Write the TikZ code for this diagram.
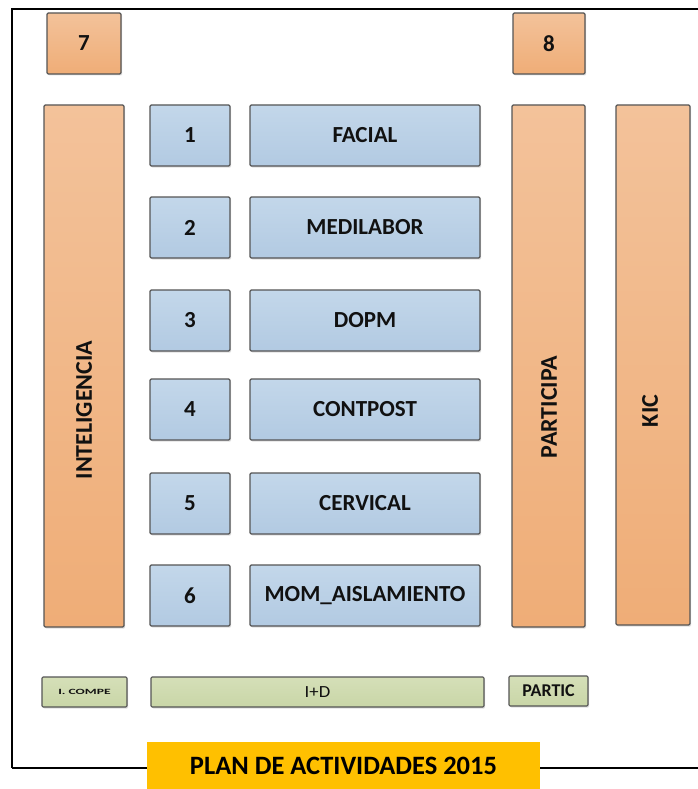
\documentclass[tikz,border=0pt]{standalone}
\usepackage{fontspec}
\setmainfont{Carlito}
\usetikzlibrary{shadows}
\definecolor{otop}{HTML}{F3C29A}
\definecolor{obot}{HTML}{EFAD77}
\definecolor{btop}{HTML}{C3D7EA}
\definecolor{bbot}{HTML}{B2CAE2}
\definecolor{gtop}{HTML}{D5DFB8}
\definecolor{gbot}{HTML}{C9D6A7}
\definecolor{edge}{HTML}{555555}
\definecolor{txt}{HTML}{111111}
\definecolor{gold}{HTML}{FFC000}
\tikzset{
  base/.style={draw=edge, line width=1.3pt, inner sep=0pt, text=txt, rounded corners=1.2pt,
    font=\bfseries\fontsize{23}{26}\selectfont,
    drop shadow={shadow xshift=1.2pt, shadow yshift=-1.5pt, opacity=0.25}},
  obox/.style={base, top color=otop, bottom color=obot},
  bbox/.style={base, top color=btop, bottom color=bbot},
  gbox/.style={base, top color=gtop, bottom color=gbot, line width=1.1pt},
  vlab/.style={rotate=90, text=txt, inner sep=0pt, font=\bfseries\fontsize{24}{27}\selectfont},
}
\begin{document}
\begin{tikzpicture}[x=1pt, y=-1pt]
\useasboundingbox (0,0) rectangle (698,789);
% frame
\coordinate (fbl) at (12,768);
\coordinate (ftl) at (12,9);
\coordinate (ftr) at (700,9);
\coordinate (fbr) at (700,768);
\draw[line width=1.6pt] (fbl) -- (ftl) -- (ftr);
\draw[line width=1.6pt] (fbl) -- (fbr);
% top squares
\node[obox, minimum width=74pt, minimum height=61pt] (b7) at (84,43.5) {7};
\node[obox, minimum width=72pt, minimum height=61pt] (b8) at (549,43.5) {8};
% tall columns
\node[obox, minimum width=80pt, minimum height=522pt] (intel) at (84,366) {};
\node[vlab] (intelt) at (84,410) {INTELIGENCIA};
\node[obox, minimum width=73pt, minimum height=522pt] (part) at (548.5,366) {};
\node[vlab] (partt) at (549,407) {PARTICIPA};
\node[obox, minimum width=74pt, minimum height=520pt] (kic) at (653,365) {};
\node[vlab] (kict) at (650,411) {KIC};
% rows
\foreach \n/\lab/\yc in {1/FACIAL/135.5, 2/MEDILABOR/227.5, 3/DOPM/320.5, 4/CONTPOST/409.5, 5/CERVICAL/503.5, 6/MOM\_AISLAMIENTO/595.5}{
  \node[bbox, minimum width=80pt, minimum height=61pt] (n\n) at (190,\yc) {\n};
  \node[bbox, minimum width=230pt, minimum height=61pt] (l\n) at (365,\yc) {\lab};
}
% bottom bars
\node[gbox, minimum width=85pt, minimum height=30pt, font=\bfseries\fontsize{8}{9}\selectfont] (ic) at (84.5,692) {\scalebox{1.7}[1]{I. COMPE}};
\node[gbox, minimum width=333pt, minimum height=30pt, font=\fontsize{17}{19}\selectfont] (id) at (317.5,692) {\scalebox{1.1}[1]{I+D}};
\node[gbox, minimum width=79pt, minimum height=30pt, font=\bfseries\fontsize{18}{20}\selectfont] (pc) at (548.5,691) {PARTIC};
% title
\node[fill=gold, minimum width=393pt, minimum height=47pt, inner sep=0pt, text=black,
  font=\bfseries\fontsize{26.5}{30}\selectfont] (title) at (343.5,765.5) {PLAN DE ACTIVIDADES 2015};
\end{tikzpicture}
\end{document}
